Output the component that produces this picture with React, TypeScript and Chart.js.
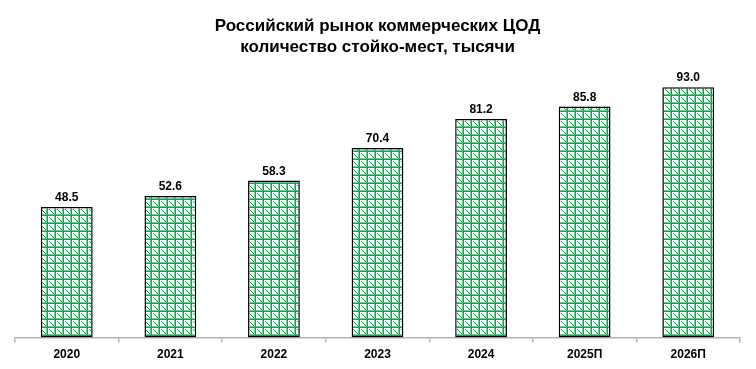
import React, { useEffect, useRef } from "react";
import { Chart, registerables } from "chart.js";

Chart.register(...registerables);

const categories = ["2020", "2021", "2022", "2023", "2024", "2025П", "2026П"];
const values = [48.5, 52.6, 58.3, 70.4, 81.2, 85.8, 93.0];
const titleLines = ["Российский рынок коммерческих ЦОД", "количество стойко-мест, тысячи"];

function makePattern(): CanvasPattern | string {
  const s = 8;
  const c = document.createElement("canvas");
  c.width = s;
  c.height = s;
  const g = c.getContext("2d");
  if (!g) return "#ffffff";
  g.fillStyle = "#ffffff";
  g.fillRect(0, 0, s, s);
  g.fillStyle = "#66d195";
  g.fillRect(0, s - 2, s, 1);
  g.fillRect(s - 2, 0, 1, s);
  g.fillStyle = "#00b050";
  g.fillRect(0, s - 1, s, 1);
  g.fillRect(s - 1, 0, 1, s);
  g.fillStyle = "#1e8c45";
  for (let i = 1; i < s - 2; i += 1) {
    g.fillRect(i, i, 1, 1);
  }
  const p = g.createPattern(c, "repeat");
  return p || "#00b050";
}

const labelPlugin = {
  id: "valueLabels",
  afterDatasetsDraw(chart: any) {
    const ctx = chart.ctx;
    const meta = chart.getDatasetMeta(0);
    ctx.save();
    ctx.font = "bold 12px 'Liberation Sans', Arial, sans-serif";
    ctx.fillStyle = "#000000";
    ctx.textAlign = "center";
    ctx.textBaseline = "alphabetic";
    meta.data.forEach((el: any, i: number) => {
      ctx.fillText(values[i].toFixed(1), el.x, el.y - 6);
    });
    ctx.restore();
  },
};

export default function App() {
  const ref = useRef<HTMLCanvasElement | null>(null);
  useEffect(() => {
    if (!ref.current) return;
    const pattern = makePattern();
    const chart = new Chart(ref.current, {
      type: "bar",
      data: {
        labels: categories,
        datasets: [
          {
            data: values,
            backgroundColor: pattern as any,
            borderColor: "#000000",
            borderWidth: 1.5,
            borderSkipped: false,
            categoryPercentage: 1,
            barPercentage: 0.5,
          },
        ],
      },
      options: {
        responsive: true,
        maintainAspectRatio: false,
        animation: false,
        layout: { padding: { left: 7, right: 8, top: 0, bottom: 0 } },
        plugins: {
          legend: { display: false },
          tooltip: { enabled: false },
          title: {
            display: true,
            text: titleLines,
            color: "#000000",
            font: { family: "'Liberation Sans', Arial, sans-serif", size: 17, weight: "bold", lineHeight: 1.25 },
            padding: { top: 7.4, bottom: 10.4 },
          },
        },
        scales: {
          x: {
            offset: true,
            grid: {
              display: true,
              offset: true,
              drawOnChartArea: false,
              drawTicks: true,
              tickLength: 5,
              color: "#b3b3b3",
              lineWidth: 1.5,
            },
            border: { display: true, color: "#b3b3b3", width: 1.5 },
            ticks: {
              color: "#000000",
              padding: 5,
              font: { family: "'Liberation Sans', Arial, sans-serif", size: 12, weight: "bold" },
            },
          },
          y: {
            display: false,
            min: 0,
            max: 100,
          },
        },
      },
      plugins: [labelPlugin],
    });
    return () => chart.destroy();
  }, []);
  return (
    <div style={{ width: 740, height: 359, marginBottom: -8, position: "relative" }}>
      <canvas ref={ref} />
    </div>
  );
}
